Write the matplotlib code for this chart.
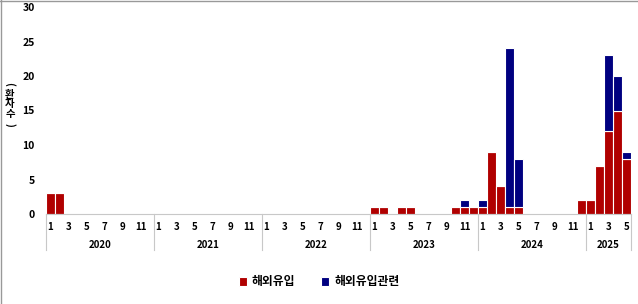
import numpy as np
import matplotlib.pyplot as plt
from matplotlib.lines import Line2D

plt.rcParams['font.family'] = ['Noto Sans CJK KR', 'DejaVu Sans']

# monthly counts, 2020-01 .. 2025-05
years = [2020, 2021, 2022, 2023, 2024, 2025]
months_per_year = [12, 12, 12, 12, 12, 5]

imported = [3, 3, 0, 0, 0, 0, 0, 0, 0, 0, 0, 0,   # 2020
            0, 0, 0, 0, 0, 0, 0, 0, 0, 0, 0, 0,   # 2021
            0, 0, 0, 0, 0, 0, 0, 0, 0, 0, 0, 0,   # 2022
            1, 1, 0, 1, 1, 0, 0, 0, 0, 1, 1, 1,   # 2023
            1, 9, 4, 1, 1, 0, 0, 0, 0, 0, 0, 2,   # 2024
            2, 7, 12, 15, 8]                      # 2025
related = [0] * 12 + [0] * 12 + [0] * 12 + \
          [0, 0, 0, 0, 0, 0, 0, 0, 0, 0, 1, 0] + \
          [1, 0, 0, 23, 7, 0, 0, 0, 0, 0, 0, 0] + \
          [0, 0, 11, 5, 1]

labels = ['해외유입', '해외유입관련']
y_title = '(환자수)'
red = '#B00000'
navy = '#000080'

imported = np.array(imported)
related = np.array(related)
x = np.arange(len(imported))

fig = plt.figure(figsize=(6.38, 3.04), dpi=100)
ax = fig.add_axes([46 / 638, 1 - 214 / 304, 585 / 638, 207 / 304])

ax.bar(x, imported, width=1.0, color=red, edgecolor='white', linewidth=0.8, label=labels[0])
ax.bar(x, related, bottom=imported, width=1.0, color=navy, edgecolor='white', linewidth=0.8, label=labels[1])

ax.set_xlim(-0.5, len(x) - 0.5)
ax.set_ylim(0, 30)
ax.set_yticks(range(0, 31, 5))
ax.tick_params(axis='y', length=0, labelsize=7.5, pad=8)
for t in ax.get_yticklabels():
    t.set_fontweight('bold')

# month ticks: odd months
tick_pos, tick_lab = [], []
start = 0
for y, n in zip(years, months_per_year):
    for m in range(1, n + 1, 2):
        tick_pos.append(start + m - 1)
        tick_lab.append(str(m))
    start += n
ax.set_xticks(tick_pos)
ax.set_xticklabels(tick_lab, fontsize=7, fontweight='bold')
ax.tick_params(axis='x', length=0, pad=6)

for s in ['top', 'right', 'left']:
    ax.spines[s].set_visible(False)
ax.spines['bottom'].set_color('#c8c8c8')

# year labels and separators
start = 0
trans = ax.get_xaxis_transform()
for y, n in zip(years, months_per_year):
    ax.add_line(Line2D([start - 0.5, start - 0.5], [0, -0.175], transform=trans,
                       color='#c8c8c8', lw=0.8, clip_on=False))
    ax.text(start + n / 2 - 0.5, -0.15, str(y), transform=trans, ha='center', va='center',
            fontsize=7, fontweight='bold')
    start += n
ax.add_line(Line2D([start - 0.5, start - 0.5], [0, -0.175], transform=trans,
                   color='#c8c8c8', lw=0.8, clip_on=False))

# stacked vertical y title: upright hangul, rotated parentheses
ys = [84, 94.5, 104.5, 114.5, 125]
for ch, yp in zip(y_title, ys):
    rot = 270 if ch in '()' else 0
    fig.text(10 / 638, 1 - yp / 304, ch, rotation=rot, ha='center', va='center',
             fontsize=7.5, fontweight='bold')

fig.legend(loc='center', bbox_to_anchor=(0.5, 1 - 282 / 304), ncol=2, frameon=False,
           prop={'size': 8.5, 'weight': 'bold'}, handlelength=0.7, handleheight=0.7,
           columnspacing=2.2, handletextpad=0.4)

# thin border on top and left like the source image
fig.add_artist(Line2D([0, 1], [0.998, 0.998], color='#999999', lw=1, transform=fig.transFigure))
fig.add_artist(Line2D([0.001, 0.001], [0, 1], color='#999999', lw=1, transform=fig.transFigure))

fig.savefig('out.png', dpi=100)
